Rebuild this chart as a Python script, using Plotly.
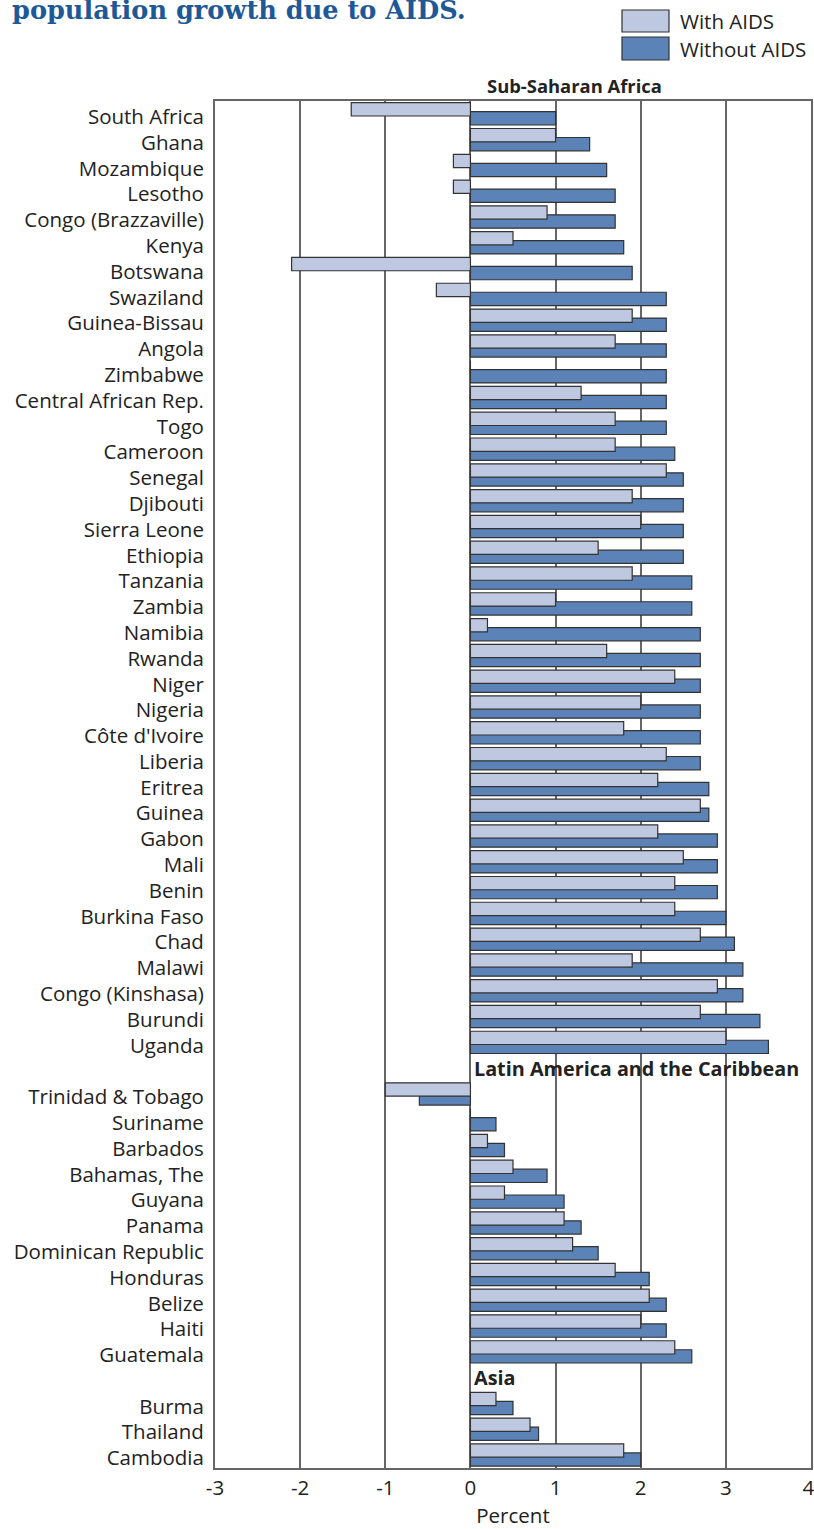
import plotly.graph_objects as go

# ---------------- data ----------------
ssa_countries = ["South Africa", "Ghana", "Mozambique", "Lesotho", "Congo (Brazzaville)", "Kenya",
                 "Botswana", "Swaziland", "Guinea-Bissau", "Angola", "Zimbabwe", "Central African Rep.",
                 "Togo", "Cameroon", "Senegal", "Djibouti", "Sierra Leone", "Ethiopia", "Tanzania",
                 "Zambia", "Namibia", "Rwanda", "Niger", "Nigeria", "Côte d'Ivoire", "Liberia",
                 "Eritrea", "Guinea", "Gabon", "Mali", "Benin", "Burkina Faso", "Chad", "Malawi",
                 "Congo (Kinshasa)", "Burundi", "Uganda"]
ssa_with = [-1.4, 1.0, -0.2, -0.2, 0.9, 0.5, -2.1, -0.4, 1.9, 1.7, 0.0, 1.3,
            1.7, 1.7, 2.3, 1.9, 2.0, 1.5, 1.9, 1.0, 0.2, 1.6, 2.4, 2.0, 1.8, 2.3,
            2.2, 2.7, 2.2, 2.5, 2.4, 2.4, 2.7, 1.9, 2.9, 2.7, 3.0]
ssa_without = [1.0, 1.4, 1.6, 1.7, 1.7, 1.8, 1.9, 2.3, 2.3, 2.3, 2.3, 2.3,
               2.3, 2.4, 2.5, 2.5, 2.5, 2.5, 2.6, 2.6, 2.7, 2.7, 2.7, 2.7, 2.7, 2.7,
               2.8, 2.8, 2.9, 2.9, 2.9, 3.0, 3.1, 3.2, 3.2, 3.4, 3.5]

lac_countries = ["Trinidad & Tobago", "Suriname", "Barbados", "Bahamas, The", "Guyana", "Panama",
                 "Dominican Republic", "Honduras", "Belize", "Haiti", "Guatemala"]
lac_with = [-1.0, 0.0, 0.2, 0.5, 0.4, 1.1, 1.2, 1.7, 2.1, 2.0, 2.4]
lac_without = [-0.6, 0.3, 0.4, 0.9, 1.1, 1.3, 1.5, 2.1, 2.3, 2.3, 2.6]

asia_countries = ["Burma", "Thailand", "Cambodia"]
asia_with = [0.3, 0.7, 1.8]
asia_without = [0.5, 0.8, 2.0]

region_names = ["Sub-Saharan Africa", "Latin America and the Caribbean", "Asia"]
series_names = ["With AIDS", "Without AIDS"]
x_ticks = [-3, -2, -1, 0, 1, 2, 3, 4]
x_ticklabels = ["-3", "-2", "-1", "0", "1", "2", "3", "4 "]
x_title = "Percent"
title_text = "population growth due to AIDS."

# ---------------- styling ----------------
C_LIGHT = "#bec8e1"
C_DARK = "#5b83b7"
C_EDGE = "#333333"
C_GRID = "#666666"
C_TEXT = "#222222"
FONT = "Open Sans"
FS = 20.5

W, H = 814, 1529
ML, MR, MT, MB = 215, 3, 101, 61
PW, PH = W - ML - MR, H - MT - MB

def px_x(p):
    return (p - ML) / PW

def px_y(p):
    return (H - MB - p) / PH

# category order with spacer rows between regions
spacer1, spacer2 = " ", "  "
cat_order = ssa_countries + [spacer1] + lac_countries + [spacer2] + asia_countries
countries = ssa_countries + lac_countries + asia_countries
with_vals = ssa_with + lac_with + asia_with
without_vals = ssa_without + lac_without + asia_without

fig = go.Figure()
fig.add_trace(go.Bar(
    y=countries, x=without_vals, orientation="h", name=series_names[1],
    marker=dict(color=C_DARK, line=dict(color=C_EDGE, width=1.2)),
    width=0.515, offset=-0.085, showlegend=False, hoverinfo="x+y+name"))
fig.add_trace(go.Bar(
    y=countries, x=with_vals, orientation="h", name=series_names[0],
    marker=dict(color=C_LIGHT, line=dict(color=C_EDGE, width=1.2)),
    width=0.515, offset=-0.434, showlegend=False, hoverinfo="x+y+name"))

fig.update_layout(
    width=W, height=H, barmode="overlay",
    margin=dict(l=ML, r=MR, t=MT, b=MB, autoexpand=False),
    paper_bgcolor="white", plot_bgcolor="white",
    font=dict(family=FONT, size=FS, color=C_TEXT),
)
fig.update_xaxes(
    range=[-3, 4], tickvals=x_ticks, ticktext=x_ticklabels,
    automargin=False, ticklabeloverflow="allow",
    showgrid=True, gridcolor=C_GRID, gridwidth=1.6,
    zeroline=True, zerolinecolor=C_GRID, zerolinewidth=1.6,
    showline=True, linecolor=C_GRID, linewidth=2, mirror=True,
    ticks="", tickfont=dict(size=FS, color=C_TEXT),
    title=dict(text=x_title, font=dict(size=FS, color=C_TEXT), standoff=10),
)
fig.update_yaxes(
    type="category", categoryorder="array", categoryarray=cat_order,
    range=[len(cat_order) - 0.5, -0.5], automargin=False,
    showgrid=False, zeroline=False,
    showline=True, linecolor=C_GRID, linewidth=2, mirror=True,
    ticks="", ticklabelstandoff=5, ticklabelshift=-3,
    tickfont=dict(size=FS, color=C_TEXT),
)

# title (partially cut at top, as in the source)
fig.add_annotation(text="<b>" + title_text + "</b>", xref="paper", yref="paper",
                   x=px_x(10), y=px_y(10), xanchor="left", yanchor="middle", showarrow=False,
                   font=dict(family="DejaVu Serif", size=25.6, color="#1d5996"))

# region labels
fig.add_annotation(text="<b>" + region_names[0] + "</b>", xref="x", yref="paper",
                   x=1.22, y=px_y(85), xanchor="center", yanchor="middle", showarrow=False,
                   font=dict(family=FONT, size=18.4, color=C_TEXT))
fig.add_annotation(text="<b>" + region_names[1] + "</b>", xref="x", yref="y",
                   x=0.02, y=spacer1, xanchor="left", yanchor="middle", showarrow=False,
                   font=dict(family=FONT, size=19.8, color=C_TEXT))
fig.add_annotation(text="<b>" + region_names[2] + "</b>", xref="x", yref="y",
                   x=0.02, y=spacer2, xanchor="left", yanchor="middle", showarrow=False,
                   font=dict(family=FONT, size=19.8, color=C_TEXT))

# legend (drawn)
legend_items = [(series_names[0], C_LIGHT, 10, 32), (series_names[1], C_DARK, 37, 60)]
for name, col, y0, y1 in legend_items:
    fig.add_shape(type="rect", xref="paper", yref="paper",
                  x0=px_x(622), x1=px_x(669), y0=px_y(y1), y1=px_y(y0),
                  fillcolor=col, line=dict(color=C_EDGE, width=1.2))
    fig.add_annotation(text=name, xref="paper", yref="paper",
                       x=px_x(678), y=px_y((y0 + y1) / 2), xanchor="left", yanchor="middle",
                       showarrow=False, font=dict(family=FONT, size=20.5, color=C_TEXT))

fig.write_html("out.html", config={"displayModeBar": False},
               post_script="document.body.style.margin='0';document.body.style.padding='0';")
